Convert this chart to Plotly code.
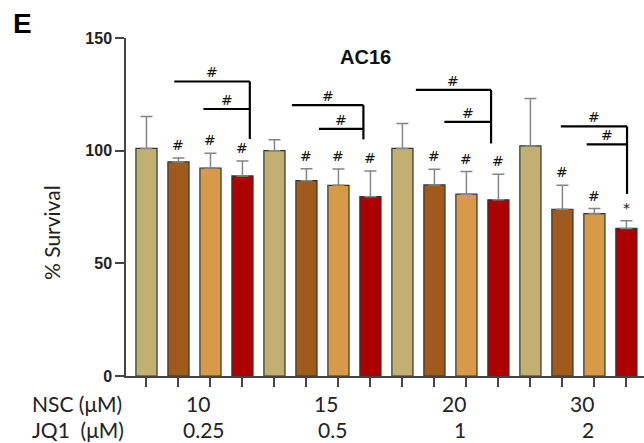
import plotly.graph_objects as go

# ---------------- data ----------------
nsc_labels = ["10", "15", "20", "30"]
jq1_labels = ["0.25", "0.5", "1", "2"]
series_names = ["Control", "NSC", "JQ1", "NSC + JQ1"]

control_mean = [101.0, 100.0, 101.0, 102.1]
nsc_mean = [95.0, 86.7, 84.8, 74.0]
jq1_mean = [92.3, 84.6, 80.7, 72.1]
combo_mean = [88.8, 79.6, 78.2, 65.5]

control_err = [14.2, 4.9, 11.1, 21.0]
nsc_err = [1.8, 5.3, 6.9, 10.6]
jq1_err = [6.5, 7.3, 10.0, 2.2]
combo_err = [6.6, 11.4, 11.3, 3.4]

control_sig = ["", "", "", ""]
nsc_sig = ["#", "#", "#", "#"]
jq1_sig = ["#", "#", "#", "#"]
combo_sig = ["#", "#", "#", "*"]

# ---------------- style ----------------
colors = ["#C0B172", "#A05A1C", "#D89A48", "#AD0000"]
W, H = 644, 443
L, R, T, B = 126, 0, 38, 67
plot_w = W - L - R
plot_h = H - T - B


def px(x):
    return (x - L) / plot_w


def py(y):
    return (H - B - y) / plot_h


means = [control_mean, nsc_mean, jq1_mean, combo_mean]
errs = [control_err, nsc_err, jq1_err, combo_err]
sigs = [control_sig, nsc_sig, jq1_sig, combo_sig]
n_groups = len(nsc_labels)
n_series = len(series_names)

fig = go.Figure()
for s in range(n_series):
    xs = [g * n_series + s for g in range(n_groups)]
    fig.add_trace(go.Bar(
        x=xs, y=means[s], name=series_names[s], width=0.66,
        marker=dict(color=colors[s], line=dict(color="#333333", width=1.2)),
        error_y=dict(type="data", array=errs[s], arrayminus=[0] * n_groups,
                     symmetric=False, color="#858585", thickness=1.5, width=6),
        showlegend=False,
    ))

annotations = []
sig_font = dict(family="DejaVu Sans", size=14, color="#111111")
# significance marks above bars
for s in range(n_series):
    for g in range(n_groups):
        if sigs[s][g]:
            annotations.append(dict(
                x=g * n_series + s, y=means[s][g] + errs[s][g], xref="x", yref="y",
                text=sigs[s][g], showarrow=False, yanchor="middle", yshift=13,
                font=sig_font))

# brackets: (x_left_top, x_left_second, x_vertical, y_top, y_second, y_bottom)
brackets = [
    (0.87, 1.78, 3.23, 130.7, 118.5, 105.2),
    (4.55, 5.39, 6.78, 120.2, 109.7, 105.0),
    (8.42, 9.31, 10.77, 127.0, 112.8, 103.2),
    (12.95, 13.76, 15.02, 110.8, 102.8, 80.8),
]
shapes = []
for (xl1, xl2, xv, yt, ys, yb) in brackets:
    line = dict(color="#000000", width=2.2)
    shapes.append(dict(type="line", xref="x", yref="y", x0=xl1, x1=xv, y0=yt, y1=yt, line=line))
    shapes.append(dict(type="line", xref="x", yref="y", x0=xl2, x1=xv, y0=ys, y1=ys, line=line))
    shapes.append(dict(type="line", xref="x", yref="y", x0=xv, x1=xv, y0=yt, y1=yb, line=line))
    for (xl, yy) in [(xl1, yt), (xl2, ys)]:
        annotations.append(dict(
            x=(xl + xv) / 2, y=yy, xref="x", yref="y", text="#", showarrow=False,
            yanchor="middle", yshift=9, font=sig_font))

# category labels under the axis
label_font = dict(family="Lato", size=21, color="#222222")
for g in range(n_groups):
    xc = g * n_series + (n_series - 1) / 2
    annotations.append(dict(x=xc + 0.1, y=0, xref="x", yref="paper", text=nsc_labels[g],
                            showarrow=False, yanchor="middle", yshift=-27, font=label_font))
    annotations.append(dict(x=xc + 0.3, y=0, xref="x", yref="paper", text=jq1_labels[g],
                            showarrow=False, yanchor="middle", yshift=-53, font=label_font))
annotations.append(dict(x=px(30), y=py(403), xref="paper", yref="paper", text="NSC (μM)",
                        showarrow=False, xanchor="left", yanchor="middle", font=label_font))
annotations.append(dict(x=px(30), y=py(429), xref="paper", yref="paper", text="JQ1  (μM)",
                        showarrow=False, xanchor="left", yanchor="middle", font=label_font))

# y title
annotations.append(dict(x=px(52), y=py(233), xref="paper", yref="paper", text="% Survival",
                        textangle=-90, showarrow=False, xanchor="center", yanchor="middle",
                        font=dict(family="Lato", size=21, color="#222222")))
# chart title
annotations.append(dict(x=px(365), y=py(57), xref="paper", yref="paper", text="<b>AC16</b>",
                        showarrow=False, xanchor="center", yanchor="middle",
                        font=dict(family="Liberation Sans", size=20, color="#111111")))
# panel letter
annotations.append(dict(x=px(22), y=py(23), xref="paper", yref="paper", text="<b>E</b>",
                        showarrow=False, xanchor="center", yanchor="middle",
                        font=dict(family="Liberation Sans", size=28, color="#000000")))

n_bars = n_groups * n_series
fig.update_layout(
    width=W, height=H, margin=dict(l=L, r=R, t=T, b=B, autoexpand=False),
    plot_bgcolor="white", paper_bgcolor="white", barmode="overlay",
    shapes=shapes, annotations=annotations,
    xaxis=dict(range=[-0.64, 15.55], tickvals=list(range(n_bars)), showticklabels=False,
               ticks="outside", ticklen=9, tickwidth=1.5, tickcolor="#444444",
               showline=True, linecolor="#444444", linewidth=1.5, showgrid=False,
               zeroline=False),
    yaxis=dict(range=[0, 150], tickvals=[0, 50, 100, 150], ticks="outside", ticklen=9,
               tickwidth=1.5, tickcolor="#444444", showline=True, linecolor="#444444",
               linewidth=1.5, showgrid=False, zeroline=False,
               tickfont=dict(family="Liberation Sans", size=16, color="#222222", weight="bold")),
)

fig.write_html("out.html", config={"displayModeBar": False},
               post_script="document.body.style.margin='0';document.body.style.padding='0';")
